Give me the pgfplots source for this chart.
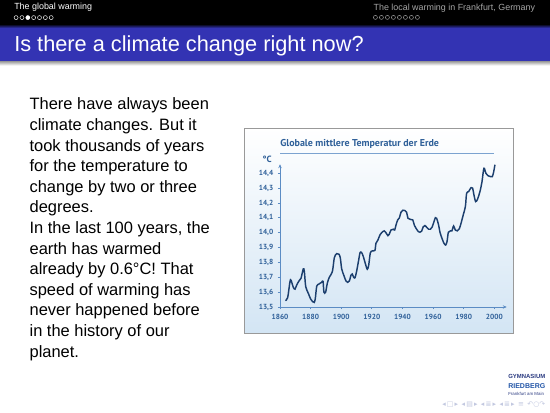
\documentclass[border=0pt]{standalone}
\usepackage{pgfplots}
\pgfplotsset{compat=1.18}
\usepackage{fontspec}
\setmainfont{Liberation Sans}
\newfontfamily\chartfont{PT Sans}
\newfontfamily\symfont{DejaVu Sans}
\usetikzlibrary{arrows.meta}
\definecolor{beamerblue}{RGB}{51,51,179}
\definecolor{curvecol}{HTML}{1C3F6E}
\definecolor{chartblue}{HTML}{2F6099}
\definecolor{axisblue}{HTML}{5B8CC4}
\definecolor{boxbottom}{HTML}{D3E5F4}
\definecolor{navcol}{HTML}{C2C8E0}
\definecolor{logonavy}{HTML}{2A3A80}
\definecolor{logoblue}{HTML}{2356A8}
\begin{document}
\begin{tikzpicture}[x=0.232727mm, y=-0.232727mm]
% page
\fill[white] (0,0) rectangle (550,412.5);
% headline
\fill[black] (0,0) rectangle (550,24);
\fill[beamerblue] (0,24) rectangle (550,61.7);
\shade[top color=black, bottom color=beamerblue] (0,24) rectangle (550,28);
\shade[top color=black!35, bottom color=white] (0,61.7) rectangle (550,65.5);
\node[anchor=base west, inner sep=0, text=white, font=\fontsize{5.9}{7}\selectfont] at (14,10) {The global warming};
\foreach \i in {0,...,6} {\draw[white, line width=0.3pt] (16.1+\i*5.85,17.6) circle (2.0);}
\fill[white] (16.1+2*5.85,17.6) circle (2.1);
\node[anchor=base west, inner sep=0, text=black!35!white, font=\fontsize{5.9}{7}\selectfont] at (373.3,10.5) {The local warming in Frankfurt, Germany};
\foreach \i in {0,...,7} {\draw[black!35!white, line width=0.3pt] (375.4+\i*6,17.4) circle (2.0);}
% frame title
\node[anchor=base west, inner sep=0, text=white, font=\fontsize{14.4}{17}\selectfont] at (14,52) {Is there a climate change right now?};
% body text
\foreach \t [count=\k from 0] in {There have always been, climate changes. But it, took thousands of years, for the temperature to, change by two or three, degrees., In the last 100 years{,} the, earth has warmed, already by 0.6°C! That, speed of warming has, never happened before, in the history of our, planet.}
  {\node[anchor=base west, inner sep=0, font=\fontsize{10.9}{13}\selectfont] at (29.3,110+\k*20.6) {\t};}
% chart box
\shade[top color=white, bottom color=boxbottom] (244,128) rectangle (513,333);
\draw[black!40, line width=0.2mm] (244,128) rectangle (513,333);
\node[anchor=base west, inner sep=0, text=chartblue, font=\chartfont\bfseries\fontsize{6.6}{8}\selectfont] at (280,147) {Globale mittlere Temperatur der Erde};
\draw[axisblue!80, line width=0.15mm] (280,153.3) -- (494.3,153.3);
\node[anchor=base west, inner sep=0, text=chartblue, font=\chartfont\bfseries\fontsize{6}{7}\selectfont] at (262.3,162.5) {°C};
\begin{axis}[
  at={(65.164mm,-71.447mm)}, anchor=south west,
  scale only axis, width=52.76mm, height=33.21mm,
  xmin=1860, xmax=2008.1, ymin=13.5, ymax=14.46,
  axis lines=left,
  axis line style={axisblue, line width=0.22mm, -{Stealth[length=0.9mm,width=0.8mm]}},
  xtick={1860,1880,1900,1920,1940,1960,1980,2000},
  xticklabels={1860,1880,1900,1920,1940,1960,1980,2000},
  ytick={13.5,13.6,13.7,13.8,13.9,14.0,14.1,14.2,14.3,14.4},
  yticklabels={13{,}5,13{,}6,13{,}7,13{,}8,13{,}9,14{,}0,14{,}1,14{,}2,14{,}3,14{,}4},
  tick style={axisblue, line width=0.18mm},
  major tick length=0.5mm, tick align=outside,
  ticklabel style={font=\chartfont\bfseries\fontsize{4.9}{5}\selectfont, text=chartblue},
  yticklabel style={inner sep=0pt, xshift=-1.0mm},
  xticklabel style={inner sep=0pt, yshift=-1.2mm},
  clip=false,
]
\addplot[curvecol, line width=0.34mm, smooth, tension=0.5] coordinates {
(1863.5,13.543) (1865.0,13.563) (1866.5,13.670) (1867.2,13.680) (1868.7,13.632)
(1869.8,13.620) (1870.9,13.648) (1872.4,13.675) (1873.7,13.693) (1875.2,13.756)
(1875.9,13.740) (1876.8,13.637) (1878.5,13.592) (1880.0,13.554) (1881.3,13.536)
(1882.4,13.531) (1883.1,13.560) (1884.0,13.640) (1885.5,13.655) (1887.2,13.666)
(1888.1,13.673) (1888.7,13.600) (1889.8,13.600) (1890.9,13.660) (1892.2,13.700)
(1894.2,13.738) (1895.5,13.832) (1897.0,13.859) (1898.5,13.855) (1899.4,13.830)
(1900.3,13.756) (1901.8,13.710) (1903.1,13.675) (1904.2,13.666) (1905.3,13.675)
(1906.4,13.715) (1907.2,13.722) (1908.1,13.700) (1909.0,13.697) (1910.0,13.738)
(1911.4,13.816) (1912.3,13.866) (1913.3,13.866) (1914.4,13.840) (1916.0,13.783)
(1917.0,13.754) (1917.9,13.778) (1919.0,13.864) (1920.3,13.877) (1922.0,13.881)
(1922.7,13.929) (1924.0,13.951) (1925.3,13.985) (1927.1,14.007) (1928.1,14.012)
(1929.2,14.000) (1930.5,13.980) (1931.4,13.990) (1932.5,14.018) (1934.0,14.023)
(1934.9,14.018) (1935.8,14.052) (1936.9,14.086) (1938.0,14.100) (1939.0,14.137)
(1940.3,14.151) (1941.6,14.149) (1942.7,14.137) (1943.6,14.097) (1944.9,14.090)
(1946.7,14.086) (1947.7,14.052) (1948.8,14.030) (1950.4,14.007) (1951.4,14.003)
(1952.5,14.010) (1953.6,14.040) (1954.7,14.048) (1956.0,14.034) (1957.1,14.023)
(1958.2,14.023) (1959.3,14.036) (1960.4,14.068) (1961.5,14.101) (1962.3,14.097)
(1963.6,14.052) (1964.5,14.003) (1965.8,13.962) (1967.1,13.929) (1968.2,13.917)
(1969.1,13.940) (1970.0,14.003) (1971.3,14.012) (1972.3,14.012) (1973.4,14.045)
(1974.5,14.018) (1975.8,14.012) (1977.1,14.025) (1978.4,14.068) (1979.7,14.120)
(1981.1,14.175) (1981.9,14.265) (1983.2,14.276) (1984.8,14.303) (1985.8,14.300)
(1986.7,14.254) (1987.8,14.209) (1989.1,14.227) (1990.6,14.276) (1991.9,14.339)
(1993.2,14.433) (1994.5,14.400) (1996.1,14.382) (1997.6,14.377) (1998.7,14.377)
(1999.6,14.410) (2000.4,14.457)
};
\end{axis}
% logo
\node[anchor=base west, inner sep=0, text=logonavy, font=\bfseries] at (508,378) {\resizebox{8.6mm}{!}{GYMNASIUM}};
\node[anchor=base west, inner sep=0, text=logoblue, font=\bfseries] at (508,388.5) {\resizebox{8.6mm}{!}{RIEDBERG}};
\node[anchor=base west, inner sep=0, text=logonavy] at (508,395) {\resizebox{8.3mm}{!}{Frankfurt am Main}};
% navigation symbols
\node[anchor=base west, inner sep=0, text=navcol, font=\symfont\fontsize{4.6}{5}\selectfont] at (442,406) {◂\,□\,▸\enspace◂\,▤\,▸\enspace◂\,≣\,▸\enspace◂\,≣\,▸\enspace≡\enspace↶○↷};
\end{tikzpicture}
\end{document}
